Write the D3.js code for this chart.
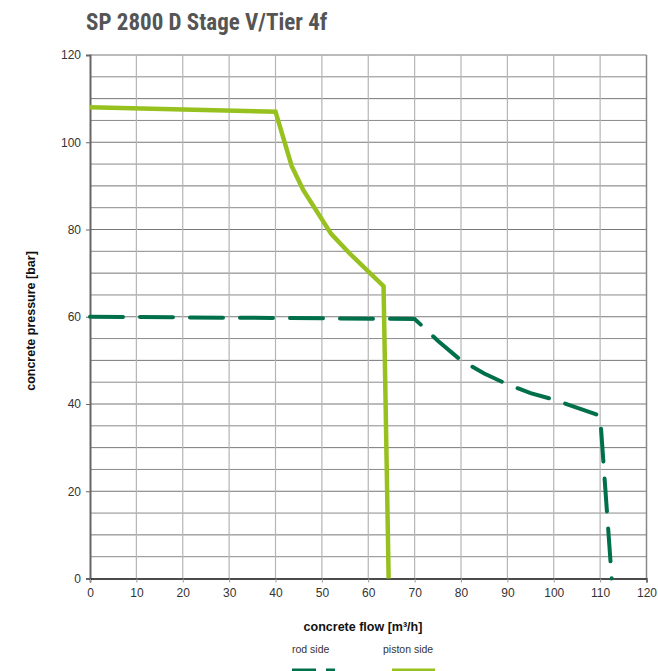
<!DOCTYPE html>
<html>
<head>
<meta charset="utf-8">
<script src="https://cdn.jsdelivr.net/npm/d3@7"></script>
<style>
  body { margin: 0; background: #fff; }
  svg { display: block; font-family: "Liberation Sans", Arial, sans-serif; }
</style>
</head>
<body>
<svg width="658" height="671"></svg>
<script>
// piston side (solid light green)
let pistonFlow = [0, 40, 43.5, 46, 52, 56, 63.3, 64.4];
let pistonPressure = [108, 107, 94.5, 89, 79, 74.5, 67, 0];

// rod side (dashed dark green)
let rodFlow = [0, 70, 75, 80, 85, 90, 95, 100, 110, 112.5];
let rodPressure = [60, 59.5, 54.5, 50, 47, 44.5, 42.5, 41, 37.3, 0];

let xTicks = [0, 10, 20, 30, 40, 50, 60, 70, 80, 90, 100, 110, 120];
let yTicks = [0, 20, 40, 60, 80, 100, 120];
let yGrid = d3.range(0, 121, 5);

let svg = d3.select('svg');

let plotLeft = 90, plotRight = 646.5, plotTop = 55, plotBottom = 578.5;

let x = d3.scaleLinear().domain([0, 120]).range([plotLeft, plotRight]);
let y = d3.scaleLinear().domain([0, 120]).range([plotBottom, plotTop]);

// title
svg.append('text')
  .attr('x', 86)
  .attr('y', 30)
  .attr('fill', '#555')
  .attr('font-family', '"Liberation Sans Narrow", "Roboto Condensed", Arial, sans-serif')
  .attr('font-weight', 'bold')
  .attr('font-size', 23)
  .text('SP 2800 D Stage V/Tier 4f');

// horizontal grid
svg.append('g')
  .selectAll('line')
  .data(yGrid.filter(d => d > 0))
  .enter()
  .append('line')
  .attr('x1', plotLeft)
  .attr('x2', plotRight)
  .attr('y1', d => y(d))
  .attr('y2', d => y(d))
  .attr('stroke', d => d % 10 === 0 ? '#777' : '#8a8a8a')
  .attr('stroke-width', 1);

// vertical grid
svg.append('g')
  .selectAll('line')
  .data(xTicks.filter(d => d > 0))
  .enter()
  .append('line')
  .attr('x1', d => x(d))
  .attr('x2', d => x(d))
  .attr('y1', plotTop)
  .attr('y2', plotBottom)
  .attr('stroke', d => d === 120 ? '#888' : '#b5b5b5')
  .attr('stroke-width', d => d === 120 ? 1.5 : 1.2);

// axes
let yAxis = d3.axisLeft(y).tickValues(yTicks).tickSize(4).tickPadding(5);
let gy = svg.append('g')
  .attr('transform', `translate(${plotLeft},0)`)
  .call(yAxis);
gy.select('.domain').attr('stroke', '#666').attr('stroke-width', 2);
gy.selectAll('.tick line').attr('stroke', '#666');
gy.selectAll('text').attr('font-size', 12).attr('fill', '#333')
  .attr('font-family', '"Liberation Sans", Arial, sans-serif');

let xAxis = d3.axisBottom(x).tickValues(xTicks).tickSize(4).tickPadding(6);
let gx = svg.append('g')
  .attr('transform', `translate(0,${plotBottom})`)
  .call(xAxis);
gx.select('.domain').attr('stroke', '#111').attr('stroke-width', 1.5);
gx.selectAll('.tick line').attr('stroke', '#999');
gx.selectAll('text').attr('font-size', 12).attr('fill', '#333')
  .attr('font-family', '"Liberation Sans", Arial, sans-serif');

// axis labels
svg.append('text')
  .attr('transform', 'translate(35,321) rotate(-90)')
  .attr('text-anchor', 'middle')
  .attr('font-weight', 'bold')
  .attr('font-size', 12.5)
  .attr('fill', '#111')
  .text('concrete pressure [bar]');

svg.append('text')
  .attr('x', 363)
  .attr('y', 631)
  .attr('text-anchor', 'middle')
  .attr('font-weight', 'bold')
  .attr('font-size', 12.5)
  .attr('fill', '#111')
  .text('concrete flow [m³/h]');

let line = d3.line().x(d => x(d[0])).y(d => y(d[1]));

let rodData = rodFlow.map((f, i) => [f, rodPressure[i]]);
let pistonData = pistonFlow.map((f, i) => [f, pistonPressure[i]]);

svg.append('path')
  .datum(rodData)
  .attr('d', line)
  .attr('fill', 'none')
  .attr('stroke', '#00704a')
  .attr('stroke-width', 4)
  .attr('stroke-linecap', 'round')
  .attr('stroke-dasharray', '33,17');

svg.append('path')
  .datum(pistonData)
  .attr('d', line)
  .attr('fill', 'none')
  .attr('stroke', '#97c11f')
  .attr('stroke-width', 4.5)
  .attr('stroke-linejoin', 'miter');

// legend
svg.append('text')
  .attr('x', 292).attr('y', 652.5)
  .attr('font-size', 10.5).attr('fill', '#333')
  .text('rod side');
svg.append('text')
  .attr('x', 383).attr('y', 652.5)
  .attr('font-size', 10.5).attr('fill', '#333')
  .text('piston side');

svg.append('line')
  .attr('x1', 292).attr('x2', 335)
  .attr('y1', 672).attr('y2', 672)
  .attr('stroke', '#00704a').attr('stroke-width', 7)
  .attr('stroke-dasharray', '24,10');
svg.append('line')
  .attr('x1', 392).attr('x2', 435)
  .attr('y1', 672).attr('y2', 672)
  .attr('stroke', '#97c11f').attr('stroke-width', 7);
</script>
</body>
</html>
